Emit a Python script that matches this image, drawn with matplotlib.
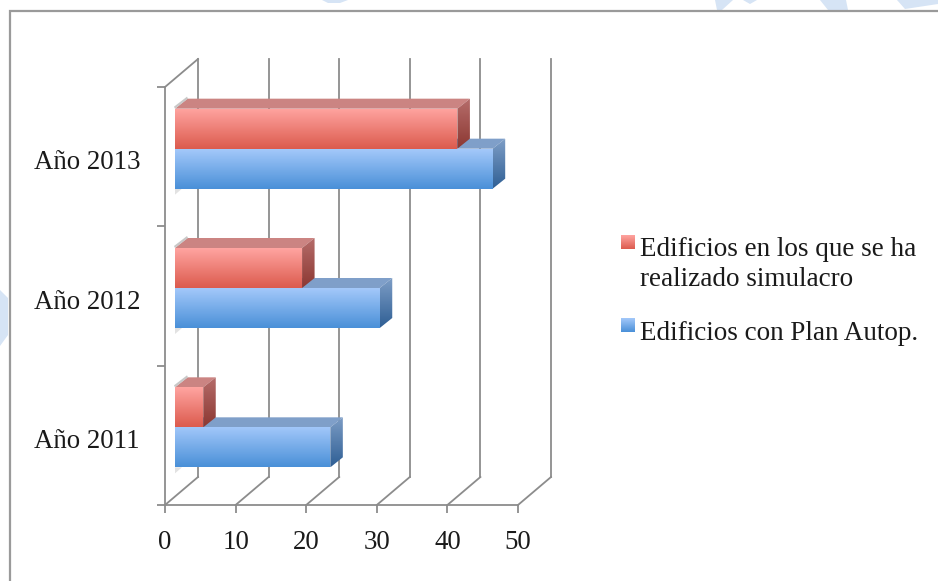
import numpy as np
import matplotlib
matplotlib.use("Agg")
import matplotlib.pyplot as plt
from matplotlib.colors import LinearSegmentedColormap
from matplotlib.patches import Polygon

# values
years = ["Año 2011", "Año 2012", "Año 2013"]
simulacro = [4, 18, 40]
plan_autop = [22, 29, 45]
x_ticks = [0, 10, 20, 30, 40, 50]
legend_labels = ["Edificios en los que se ha\nrealizado simulacro", "Edificios con Plan Autop."]

W, H = 938, 581
plt.rcParams["font.family"] = ["Liberation Serif", "DejaVu Serif"]
GRID = "#8c8c8c"
TEXT = "#1a1a1a"
LW = 1.3

fig = plt.figure(figsize=(W / 100, H / 100), dpi=100, facecolor="white")

# page layer in pixel coordinates (frame, watermark, legend)
page = fig.add_axes([0, 0, 1, 1], zorder=0)
page.set_xlim(0, W)
page.set_ylim(H, 0)
page.axis("off")

# chart axes: 0..50 between x=165 and x=518, three categories between y=505 and y=87
ax = fig.add_axes([165 / W, 1 - 505 / H, (518 - 165) / W, (505 - 87) / H], zorder=1)
ax.patch.set_alpha(0)
ax.set_xlim(0, 50)
ax.set_ylim(0, 3)

px_x = 50 / (518 - 165)
px_y = 3 / (505 - 87)
wall_dx, wall_dy = 33 * px_x, 28 * px_y
bar_dx, bar_dy = 12.5 * px_x, 10 * px_y
bar_x0 = 10 * px_x
bar_h = 40 * px_y
group_shift = 8 * px_y


def gradient(axis, poly, top, bottom):
    cmap = LinearSegmentedColormap.from_list("g", [top, bottom])
    xs = [p[0] for p in poly]
    ys = [p[1] for p in poly]
    g = np.linspace(0, 1, 64).reshape(-1, 1)
    im = axis.imshow(g, cmap=cmap, aspect="auto", origin="upper",
                     extent=(min(xs), max(xs), min(ys), max(ys)), zorder=3)
    im.set_clip_path(Polygon(poly, closed=True, transform=axis.transData))


def draw_bar(y0, value, front, top_col, side):
    x0 = bar_x0
    x1 = bar_x0 + value
    y1 = y0 + bar_h
    ax.add_patch(Polygon([(x0, y1), (x1, y1), (x1 + bar_dx, y1 + bar_dy), (x0 + bar_dx, y1 + bar_dy)],
                         closed=True, fc=top_col, ec="none", zorder=3))
    gradient(ax, [(x1, y0), (x1 + bar_dx, y0 + bar_dy), (x1 + bar_dx, y1 + bar_dy), (x1, y1)], side[0], side[1])
    gradient(ax, [(x0, y0), (x1, y0), (x1, y1), (x0, y1)], front[0], front[1])


# frame
page.plot([9.5, 9.5, W], [H, 11, 11], color="#9a9a9a", lw=1.6, zorder=2, solid_joinstyle="miter")

# pale watermark pieces outside the frame
WM = "#d6e4f5"
for piece in [[(322, 0), (348, 0), (340, 3), (328, 3)],
              [(715, 0), (733, 0), (722, 10), (717, 10)],
              [(743, 0), (757, 0), (750, 4)],
              [(820, 0), (846, 0), (848, 10), (828, 10)],
              [(897, 0), (938, 0), (938, 4), (905, 9)],
              [(0, 290), (8, 298), (8, 335), (0, 346)]]:
    page.add_patch(Polygon(piece, closed=True, fc=WM, ec="none", zorder=1))

# walls and gridlines
for v in x_ticks:
    ax.plot([v + wall_dx, v + wall_dx], [wall_dy, 3 + wall_dy], color=GRID, lw=LW, zorder=1, clip_on=False)
    ax.plot([v, v + wall_dx], [0, wall_dy], color=GRID, lw=LW, zorder=1, clip_on=False)
ax.plot([0, wall_dx], [3, 3 + wall_dy], color=GRID, lw=LW, zorder=1, clip_on=False)

# bars, blue first so the red side face sits over the blue top
for i in range(len(years)):
    base = i + 0.5 + group_shift
    draw_bar(base - bar_h, plan_autop[i], ("#a3c8fa", "#4a90d8"), "#7f9fc9", ("#7d9dc5", "#2f5f95"))
    draw_bar(base, simulacro[i], ("#ffa4a0", "#dc5b4e"), "#cb8482", ("#b56c6a", "#8c3832"))
    # soft shadow slivers left of the bar ends
    s_top = base + bar_h
    ax.add_patch(Polygon([(bar_x0 - 1 * px_x, s_top + 2 * px_y), (bar_x0 + 12 * px_x, s_top + 12 * px_y),
                          (bar_x0 + 13 * px_x, s_top + 10 * px_y), (bar_x0, s_top)],
                         closed=True, fc="#c8c8c8", ec="none", zorder=3.5, clip_on=False))
    s_low = base - bar_h
    ax.add_patch(Polygon([(bar_x0, s_low), (bar_x0 + 7 * px_x, s_low), (bar_x0, s_low - 6 * px_y)],
                         closed=True, fc="#e2e2e2", ec="none", zorder=2.5, clip_on=False))

ax.set_xlim(0, 50)
ax.set_ylim(0, 3)

# axes, ticks, tick labels
for name in ["top", "right"]:
    ax.spines[name].set_visible(False)
for name in ["left", "bottom"]:
    ax.spines[name].set_color(GRID)
    ax.spines[name].set_linewidth(LW)
ax.set_xticks(x_ticks)
ax.set_yticks([0, 1, 2, 3])
ax.set_yticklabels([])
ax.tick_params(axis="both", color=GRID, width=LW, length=6)
ax.tick_params(axis="x", labelsize=19.4, labelcolor=TEXT, pad=12)
for i, name in enumerate(years):
    ax.annotate(name, xy=(0, i + 0.5), xycoords="data", xytext=(-18, -4.5), textcoords="offset points",
                ha="right", va="center", fontsize=19.4, color=TEXT, annotation_clip=False)

# legend, the page y axis runs downward so the gradient colours are swapped
swatches = [(621, 235, "#ffa4a0", "#dc5b4e"), (621, 318, "#a3c8fa", "#4a90d8")]
for (sx, sy, c1, c2) in swatches:
    gradient(page, [(sx, sy + 14), (sx + 14, sy + 14), (sx + 14, sy), (sx, sy)], c2, c1)
page.set_xlim(0, W)
page.set_ylim(H, 0)
lines = legend_labels[0].split("\n")
page.text(640, 249, lines[0], fontsize=19.5, color=TEXT, va="center", ha="left")
page.text(640, 280, lines[1], fontsize=19.5, color=TEXT, va="center", ha="left")
page.text(640, 333, legend_labels[1], fontsize=19.5, color=TEXT, va="center", ha="left")

fig.savefig("out.png", dpi=100)
